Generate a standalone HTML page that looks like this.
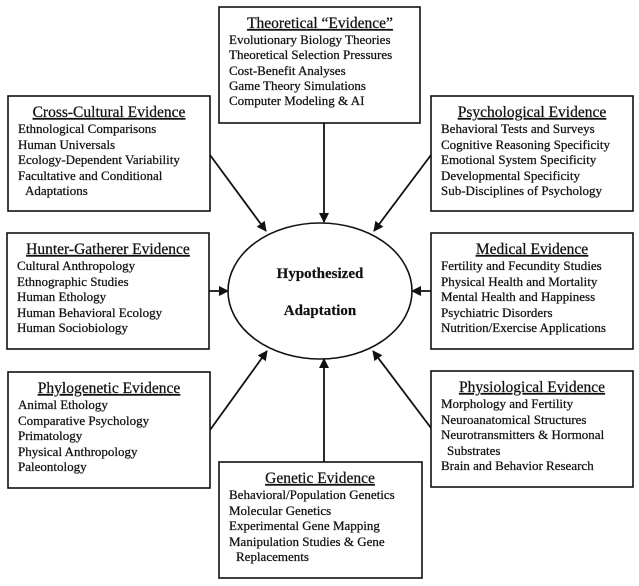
<!DOCTYPE html>
<html><head><meta charset="utf-8"><style>
html,body{margin:0;padding:0;background:#fff;}
svg{display:block;}
text{font-family:"Liberation Serif","Times New Roman",serif;fill:#111;font-size:13px;stroke:#111;stroke-width:0.25;}
.t{font-size:15.5px;text-decoration:underline;text-anchor:middle;}
.c{font-size:15px;font-weight:bold;text-anchor:middle;stroke-width:0.2;}
rect{fill:#fff;stroke:#111;stroke-width:1.6;}
line{stroke:#111;stroke-width:1.8;}
</style></head><body>
<svg width="639" height="586" viewBox="0 0 639 586" xmlns="http://www.w3.org/2000/svg">
<defs><marker id="a" markerWidth="10" markerHeight="10" refX="9" refY="5" orient="auto" markerUnits="userSpaceOnUse"><path d="M0,0 L10,5 L0,10 z" fill="#111"/></marker></defs>

<line x1="210" y1="155" x2="266" y2="231" marker-end="url(#a)"/>
<line x1="324" y1="123" x2="324" y2="222" marker-end="url(#a)"/>
<line x1="431" y1="155" x2="374" y2="231" marker-end="url(#a)"/>
<line x1="209" y1="291" x2="228" y2="291" marker-end="url(#a)"/>
<line x1="431" y1="291" x2="412" y2="291" marker-end="url(#a)"/>
<line x1="210" y1="430" x2="267" y2="351" marker-end="url(#a)"/>
<line x1="431" y1="428" x2="373" y2="351" marker-end="url(#a)"/>
<line x1="324" y1="462" x2="324" y2="359" marker-end="url(#a)"/>

<ellipse cx="320" cy="291" rx="92" ry="68" fill="#fff" stroke="#111" stroke-width="1.6"/>
<text class="c" x="320" y="278">Hypothesized</text>
<text class="c" x="320" y="315">Adaptation</text>

<rect x="219" y="7" width="201" height="116"/>
<text class="t" x="320" y="28">Theoretical “Evidence”</text>
<text x="229" y="44">Evolutionary Biology Theories</text>
<text x="229" y="59">Theoretical Selection Pressures</text>
<text x="229" y="75">Cost-Benefit Analyses</text>
<text x="229" y="90">Game Theory Simulations</text>
<text x="229" y="105">Computer Modeling &amp; AI</text>

<rect x="8" y="96" width="202" height="115"/>
<text class="t" x="109" y="117">Cross-Cultural Evidence</text>
<text x="18" y="133">Ethnological Comparisons</text>
<text x="18" y="149">Human Universals</text>
<text x="18" y="164">Ecology-Dependent Variability</text>
<text x="18" y="180">Facultative and Conditional</text>
<text x="25" y="195">Adaptations</text>

<rect x="431" y="96" width="202" height="115"/>
<text class="t" x="532" y="117">Psychological Evidence</text>
<text x="441" y="133">Behavioral Tests and Surveys</text>
<text x="441" y="149">Cognitive Reasoning Specificity</text>
<text x="441" y="164">Emotional System Specificity</text>
<text x="441" y="180">Developmental Specificity</text>
<text x="441" y="195">Sub-Disciplines of Psychology</text>

<rect x="7" y="233" width="202" height="116"/>
<text class="t" x="108" y="254">Hunter-Gatherer Evidence</text>
<text x="17" y="270">Cultural Anthropology</text>
<text x="17" y="286">Ethnographic Studies</text>
<text x="17" y="301">Human Ethology</text>
<text x="17" y="317">Human Behavioral Ecology</text>
<text x="17" y="332">Human Sociobiology</text>

<rect x="431" y="233" width="202" height="116"/>
<text class="t" x="532" y="254">Medical Evidence</text>
<text x="441" y="270">Fertility and Fecundity Studies</text>
<text x="441" y="286">Physical Health and Mortality</text>
<text x="441" y="301">Mental Health and Happiness</text>
<text x="441" y="317">Psychiatric Disorders</text>
<text x="441" y="332">Nutrition/Exercise Applications</text>

<rect x="8" y="372" width="202" height="116"/>
<text class="t" x="109" y="393">Phylogenetic Evidence</text>
<text x="18" y="409">Animal Ethology</text>
<text x="18" y="425">Comparative Psychology</text>
<text x="18" y="440">Primatology</text>
<text x="18" y="456">Physical Anthropology</text>
<text x="18" y="471">Paleontology</text>

<rect x="431" y="371" width="202" height="116"/>
<text class="t" x="532" y="392">Physiological Evidence</text>
<text x="441" y="408">Morphology and Fertility</text>
<text x="441" y="424">Neuroanatomical Structures</text>
<text x="441" y="439">Neurotransmitters &amp; Hormonal</text>
<text x="447" y="455">Substrates</text>
<text x="441" y="470">Brain and Behavior Research</text>

<rect x="219" y="462" width="203" height="116"/>
<text class="t" x="320" y="483">Genetic Evidence</text>
<text x="229" y="499">Behavioral/Population Genetics</text>
<text x="229" y="515">Molecular Genetics</text>
<text x="229" y="530">Experimental Gene Mapping</text>
<text x="229" y="546">Manipulation Studies &amp; Gene</text>
<text x="236" y="561">Replacements</text>
</svg>
</body></html>
